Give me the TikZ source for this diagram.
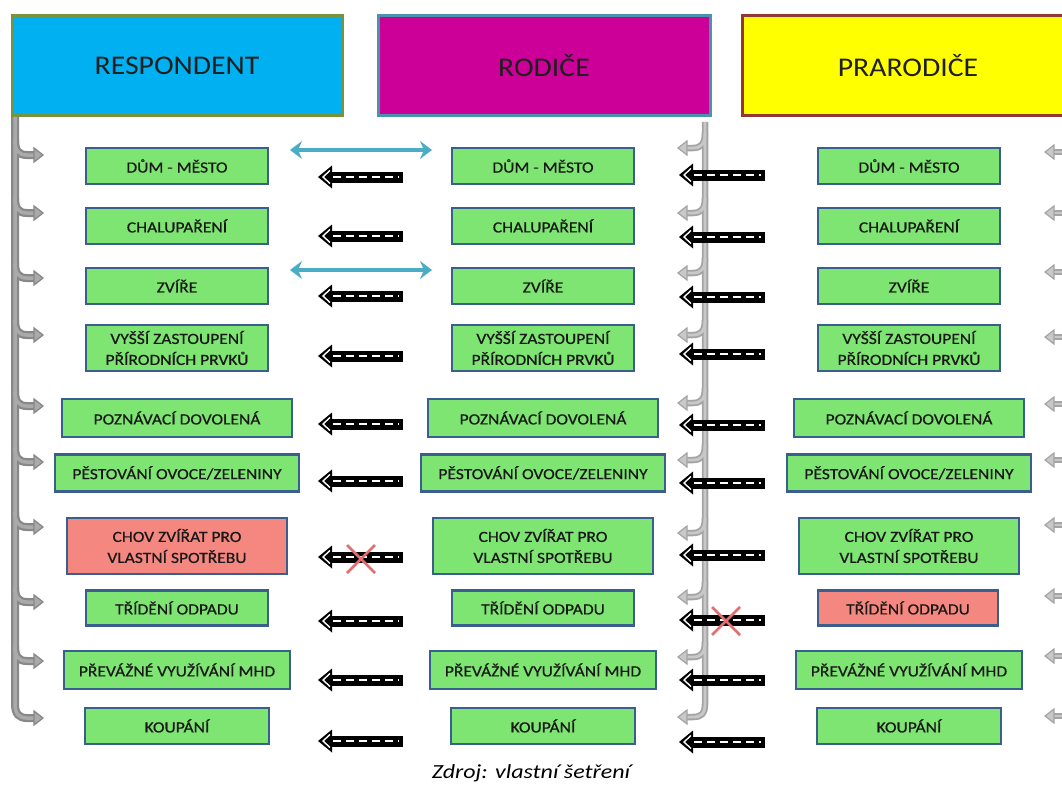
\documentclass[tikz,border=0pt]{standalone}
\usepackage{fontspec}
\setmainfont{Carlito}
\newfontfamily\boxfont{Carlito}[FakeStretch=1.13,FakeBold=0.6]
\newfontfamily\hdrfont{Carlito}[FakeStretch=1.1]
\newfontfamily\capfont{Carlito}[FakeStretch=1.2]
\usetikzlibrary{arrows.meta}
\definecolor{cyanR}{HTML}{00B0F0}
\definecolor{magP}{HTML}{CC0099}
\definecolor{yelG}{HTML}{FFFF00}
\definecolor{oliveB}{HTML}{77933C}
\definecolor{tealB}{HTML}{4A93AE}
\definecolor{redB}{HTML}{953735}
\definecolor{gfill}{HTML}{7EE472}
\definecolor{rfill}{HTML}{F4877F}
\definecolor{bborder}{HTML}{3A5F8F}
\definecolor{goutA}{HTML}{888888}
\definecolor{ginA}{HTML}{AAAAAA}
\definecolor{goutB}{HTML}{A4A4A4}
\definecolor{ginB}{HTML}{C8C8C8}
\definecolor{blueA}{HTML}{4BACC6}
\definecolor{redX}{HTML}{E07070}
\begin{document}
\begin{tikzpicture}[x=1pt,y=-1pt,
  hdr/.style={draw, line width=3, minimum height=100, minimum width=330, inner sep=0,
    font=\hdrfont\fontsize{27}{30}\selectfont, text=black!88},
  gbox/.style={draw=bborder, line width=2.5, fill=gfill, align=center, inner sep=0,
    font=\boxfont\fontsize{15.5}{21}\selectfont, text=black!90},
  rbox/.style={gbox, fill=rfill},
  barbody/.style={black, line width=11, shorten >=10},
  bardash/.style={white, line width=2.8, dash pattern=on 8pt off 5pt},
  blueboth/.style={blueA, line width=3.5, {Stealth[length=12pt,width=18pt,inset=4pt]}-{Stealth[length=12pt,width=18pt,inset=4pt]}},
  xmark/.style={redX, line width=2.6}]
\useasboundingbox (0,0) rectangle (1062,789);
\clip (0,0) rectangle (1062,789);

% headers
\node[hdr, fill=cyanR, draw=oliveB] (hR) at (177,66) {RESPONDENT};
\node[hdr, fill=magP, draw=tealB, minimum width=332] (hP) at (544,66) {RODIČE};
\node[hdr, fill=yelG, draw=redB, minimum width=332] (hG) at (908,66) {PRARODIČE};

% left bracket (outer then inner)
\foreach \c/\w in {goutA/8, ginA/3.5}{
  \draw[\c, line width=\w] (15,117) -- (15,704) .. controls (15,714) and (19,718) .. (27,718) -- (35,718);
  \foreach \y in {155,213,278,335,406,462,527,602,661}{
    \draw[\c, line width=\w] (15,\y-15) .. controls (15,\y-4) and (19,\y) .. (27,\y) -- (35,\y);
  }
}
\foreach \y in {155,213,278,335,406,462,527,602,661,718}{
  \filldraw[draw=goutA, fill=ginA, line width=1.3] (43,\y) -- (34,\y-7) -- (34,\y+7) -- cycle;
}

% right bracket
\foreach \c/\w in {goutB/6.5, ginB/2.8}{
  \draw[\c, line width=\w] (705,122) -- (705,704) .. controls (705,714) and (701,717) .. (693,717) -- (686,717);
  \foreach \y in {148,213,273,335,403,460,533,597,657}{
    \draw[\c, line width=\w] (705,\y-15) .. controls (705,\y-4) and (701,\y) .. (693,\y) -- (686,\y);
  }
}
\foreach \y in {148,213,273,335,403,460,533,597,657,717}{
  \filldraw[draw=goutB, fill=ginB, line width=1.2] (678,\y) -- (687,\y-7) -- (687,\y+7) -- cycle;
}

% right edge arrows (cut off)
\foreach \y in {152,213,272,337,404,460,525,596,656,716}{
  \draw[goutB, line width=6.5] (1053,\y) -- (1070,\y);
  \draw[ginB, line width=2.8] (1053,\y) -- (1070,\y);
  \filldraw[draw=goutB, fill=ginB, line width=1.2] (1045,\y) -- (1054,\y-7) -- (1054,\y+7) -- cycle;
}

% boxes
\foreach \i/\cy/\w/\h/\t in {
  1/166/182/36/{DŮM - MĚSTO},
  2/226/182/36/{CHALUPAŘENÍ},
  3/286/182/36/{ZVÍŘE},
  4/348/182/46/{VYŠŠÍ ZASTOUPENÍ\\PŘÍRODNÍCH PRVKŮ},
  5/418/230/38/{POZNÁVACÍ DOVOLENÁ},
  6/473/244/37/{PĚSTOVÁNÍ OVOCE/ZELENINY},
  7/546/220/56/{CHOV ZVÍŘAT PRO\\VLASTNÍ SPOTŘEBU},
  8/608/182/35/{TŘÍDĚNÍ ODPADU},
  9/670/226/38/{PŘEVÁŽNÉ VYUŽÍVÁNÍ MHD},
  10/726/184/36/{KOUPÁNÍ}}{
  \pgfmathsetmacro{\fa}{\i==7 ? 1 : 0}
  \pgfmathsetmacro{\fc}{\i==8 ? 1 : 0}
  \ifdim\fa pt>0.5pt
    \node[rbox, minimum width=\w, minimum height=\h] (r\i) at (177,\cy) {\t};
  \else
    \node[gbox, minimum width=\w, minimum height=\h] (r\i) at (177,\cy) {\t};
  \fi
  \node[gbox, minimum width=\w, minimum height=\h] (p\i) at (543,\cy) {\t};
  \ifdim\fc pt>0.5pt
    \node[rbox, minimum width=\w-2, minimum height=\h] (g\i) at (908,\cy) {\t};
  \else
    \node[gbox, minimum width=\w, minimum height=\h] (g\i) at (909,\cy) {\t};
  \fi
}

% black striped arrows
\foreach \i/\ya/\yb in {1/177/175,2/236/237,3/296/297,4/356/354,5/424/425,6/481/483,7/557/555,8/621/620,9/680/680,10/741/742}{
  \coordinate (la\i) at (403,\ya);
  \coordinate (lt\i) at (318,\ya);
  \coordinate (ra\i) at (765,\yb);
  \coordinate (rt\i) at (679,\yb);
  \foreach \s/\e in {la\i/lt\i, ra\i/rt\i}{
    \draw[barbody] (\s) -- (\e);
    \fill[black] (\e) -- ++(14,-11.5) -- ++(0,23) -- cycle;
    \draw[bardash] ([xshift=15pt]\e) -- ([xshift=-4pt]\s);
    \draw[white, line width=1.4] (\e) ++(12,-6.5) -- ++(-7,6.5) -- ++(7,6.5);
  }
}

% blue double arrows
\coordinate (bA1) at (290,150); \coordinate (bB1) at (432,150);
\coordinate (bA3) at (290,270); \coordinate (bB3) at (432,270);
\draw[blueboth] (bA1) -- (bB1);
\draw[blueboth] (bA3) -- (bB3);

% red crosses
\coordinate (x1) at (361,559);
\coordinate (x2) at (726,621);
\foreach \c in {x1,x2}{
  \draw[xmark] (\c) ++(-14,-14) -- ++(28,28);
  \draw[xmark] (\c) ++(-14,14) -- ++(28,-28);
}

% caption
\node[font=\capfont\fontsize{20}{23}\selectfont\itshape] (cap) at (531,773) {Zdroj: vlastní šetření};
\end{tikzpicture}
\end{document}
